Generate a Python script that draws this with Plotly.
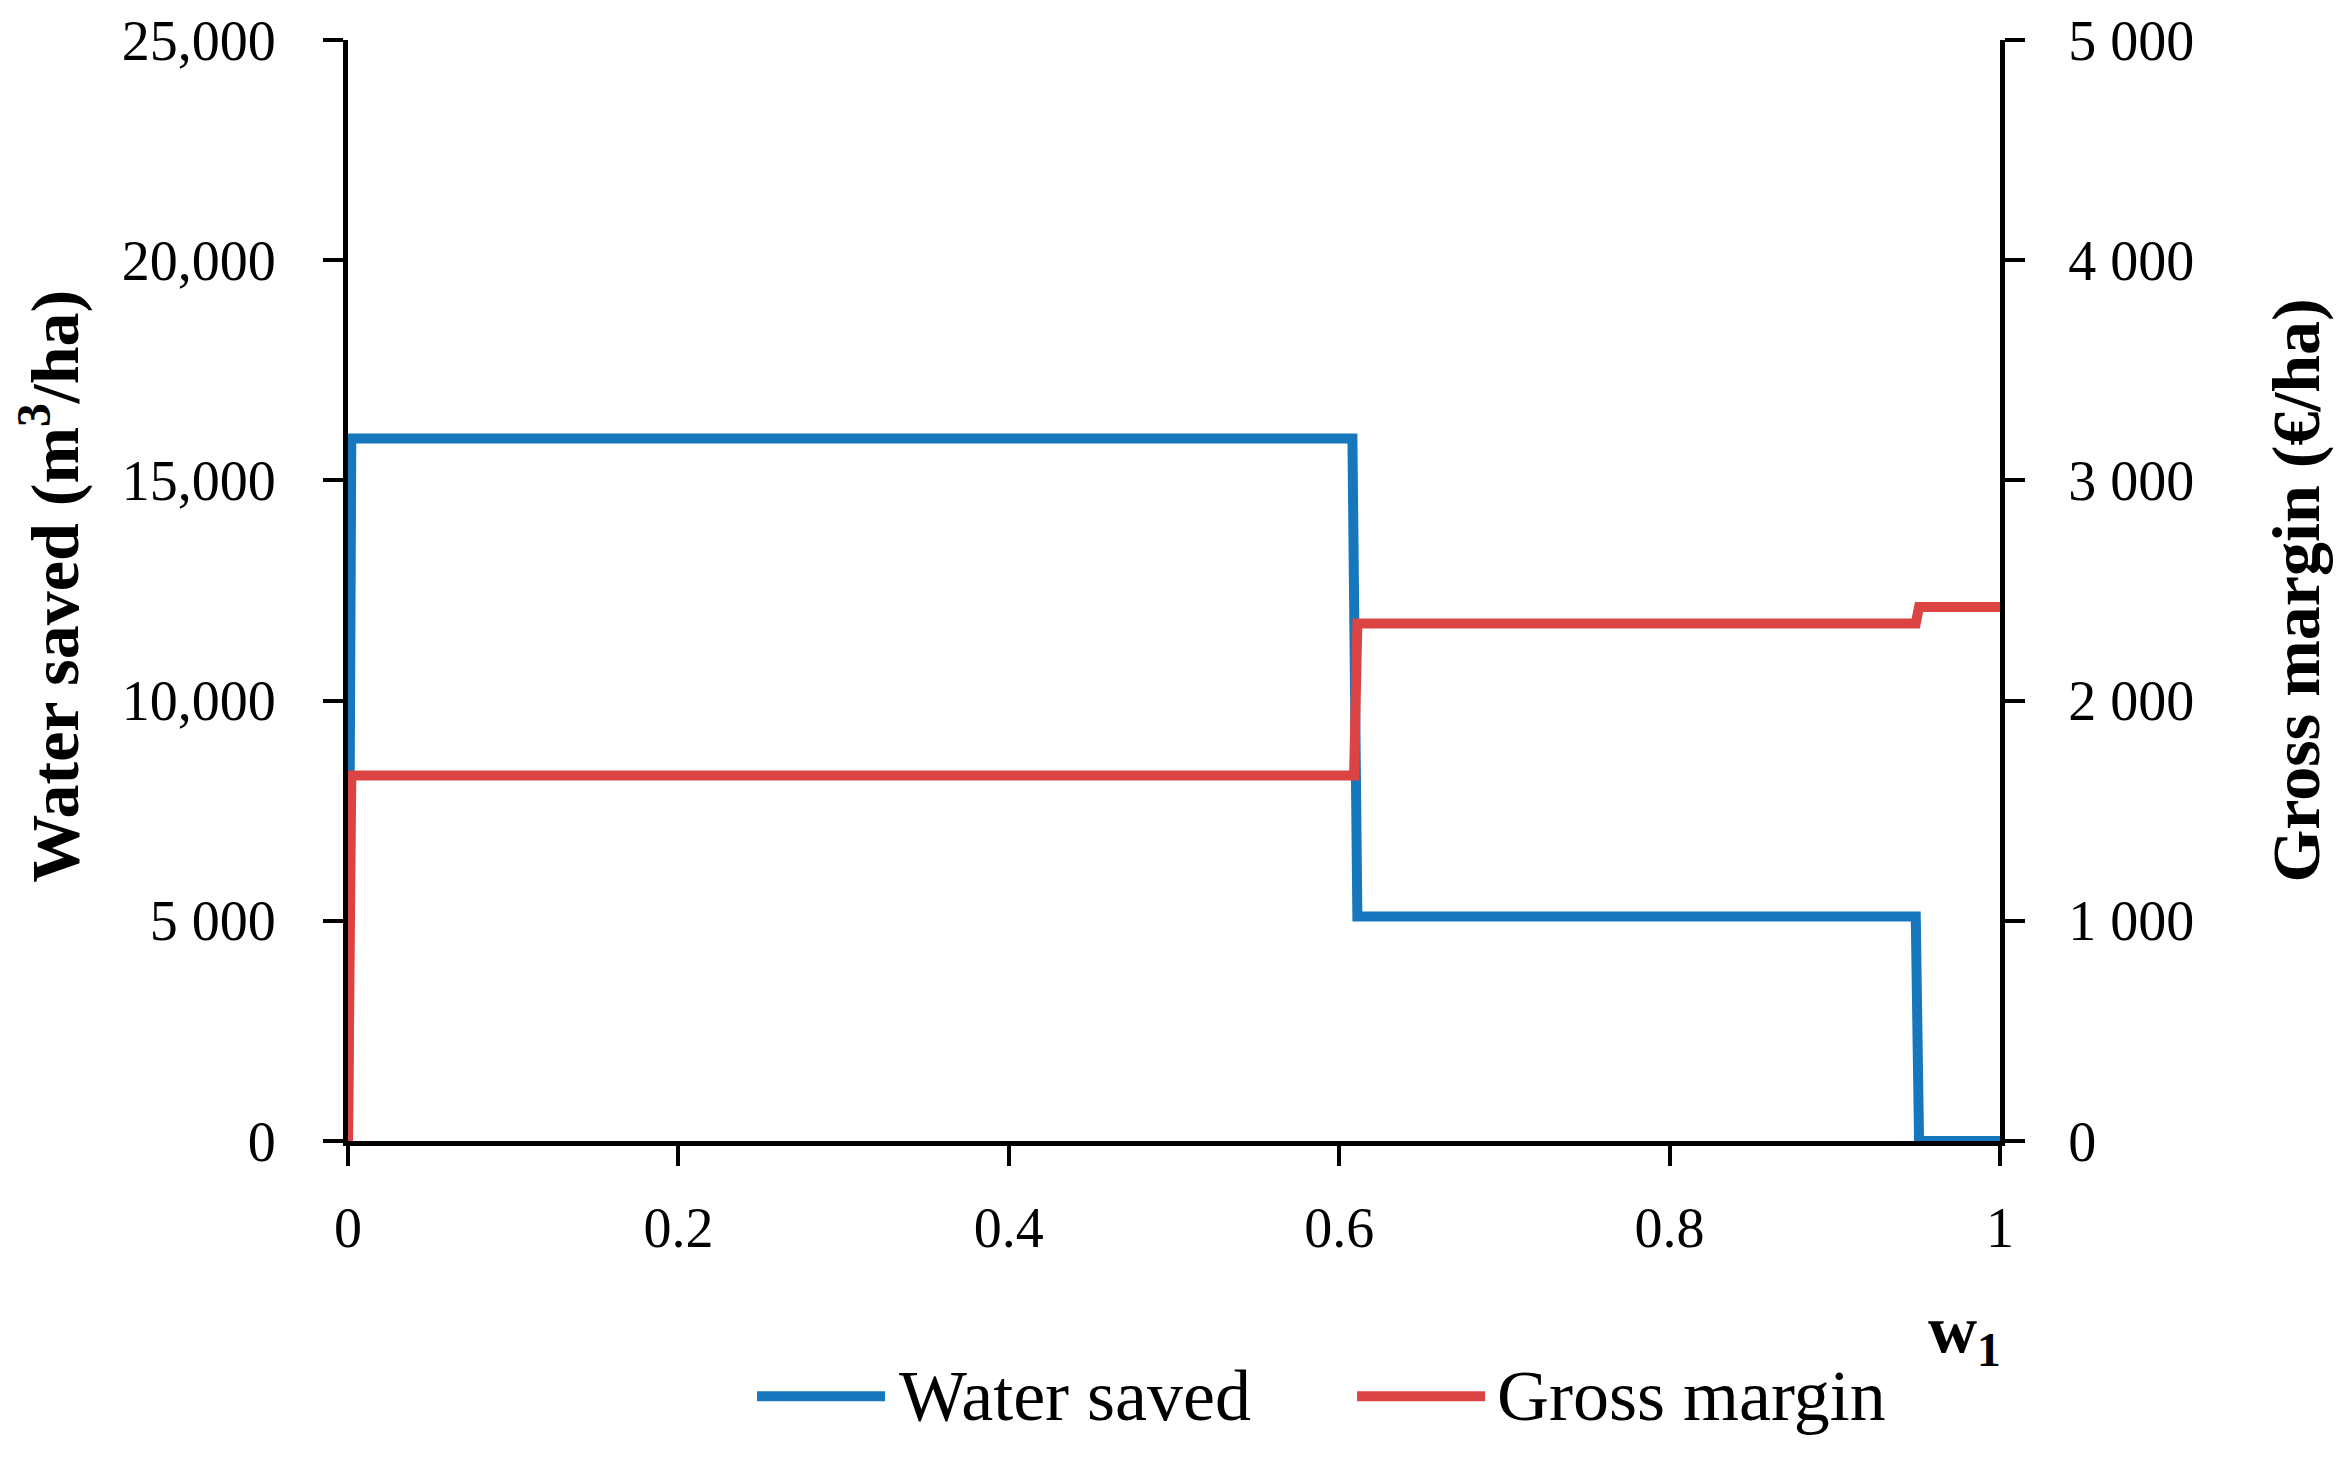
import plotly.graph_objects as go

# ---- data ----
w1_water = [0, 0.002, 0.608, 0.611, 0.949, 0.951, 1.0]
water_saved = [0, 15950, 15950, 5100, 5100, 0, 0]

w1_margin = [0, 0.002, 0.609, 0.611, 0.949, 0.951, 1.0]
gross_margin = [0, 1660, 1660, 2350, 2350, 2425, 2425]

x_ticks = [0, 0.2, 0.4, 0.6, 0.8, 1]
x_ticktext = ["0", "0.2", "0.4", "0.6", "0.8", "1"]
y1_ticks = [0, 5000, 10000, 15000, 20000, 25000]
y1_ticktext = ["0", "5 000", "10,000", "15,000", "20,000", "25,000"]
y2_ticks = [0, 1000, 2000, 3000, 4000, 5000]
y2_ticktext = ["0", "1 000", "2 000", "3 000", "4 000", "5 000"]

series_names = ["Water saved", "Gross margin"]

BLUE = "#1677BD"
RED = "#DC4444"
FONT = "Liberation Serif"
TICK_SIZE = 56
TITLE_SIZE = 68
LEGEND_SIZE = 72

fig = go.Figure()
fig.add_trace(go.Scatter(x=w1_water, y=water_saved, mode="lines", name=series_names[0],
                         line=dict(color=BLUE, width=10), yaxis="y", showlegend=False))
fig.add_trace(go.Scatter(x=w1_margin, y=gross_margin, mode="lines", name=series_names[1],
                         line=dict(color=RED, width=10), yaxis="y2", showlegend=False))

axis_common = dict(showline=True, linecolor="black", linewidth=5, ticks="outside",
                   ticklen=20, tickwidth=4, tickcolor="black", showgrid=False, zeroline=False,
                   automargin=False, ticklabeloverflow="allow",
                   tickfont=dict(family=FONT, size=TICK_SIZE, color="black"))

fig.update_layout(
    width=2344, height=1450,
    margin=dict(l=340, r=352, t=32, b=317),
    paper_bgcolor="white", plot_bgcolor="white",
    xaxis=dict(range=[0, 1], tickvals=x_ticks, ticktext=x_ticktext,
               ticklabelstandoff=14, **axis_common),
    yaxis=dict(range=[0, 25000], tickvals=y1_ticks, ticktext=y1_ticktext,
               ticklabelstandoff=36, **axis_common),
    yaxis2=dict(range=[0, 5000], tickvals=y2_ticks, ticktext=y2_ticktext, overlaying="y",
                side="right", anchor="x", ticklabelstandoff=32, **axis_common),
    showlegend=False,
)

title_font = dict(family=FONT, size=TITLE_SIZE, color="black")
ann = [
    dict(text="<b>Water saved (m<sup>3</sup>/ha)</b>", x=-0.1800, y=0.504, textangle=-90),
    dict(text="<b>Gross margin (€/ha)</b>", x=1.1786, y=0.50, textangle=-90),
    dict(text="<b>w<sub>1</sub></b>", x=0.9788, y=-0.1747, textangle=0),
]
for a in ann:
    fig.add_annotation(xref="paper", yref="paper", showarrow=False, font=title_font,
                       xanchor="center", yanchor="middle", **a)

# manual legend (long line samples as in the reference)
leg_y = -0.2318
legend_items = [(series_names[0], BLUE, 0.2476, 0.3251, 0.3323),
                (series_names[1], RED, 0.6108, 0.6883, 0.6943)]
for name, col, x0, x1, xt in legend_items:
    fig.add_shape(type="line", xref="paper", yref="paper", x0=x0, x1=x1, y0=leg_y, y1=leg_y,
                  line=dict(color=col, width=10))
    fig.add_annotation(xref="paper", yref="paper", x=xt, y=leg_y, text=name, showarrow=False,
                       xanchor="left", yanchor="middle",
                       font=dict(family=FONT, size=LEGEND_SIZE, color="black"))

fig.write_html("out.html")
